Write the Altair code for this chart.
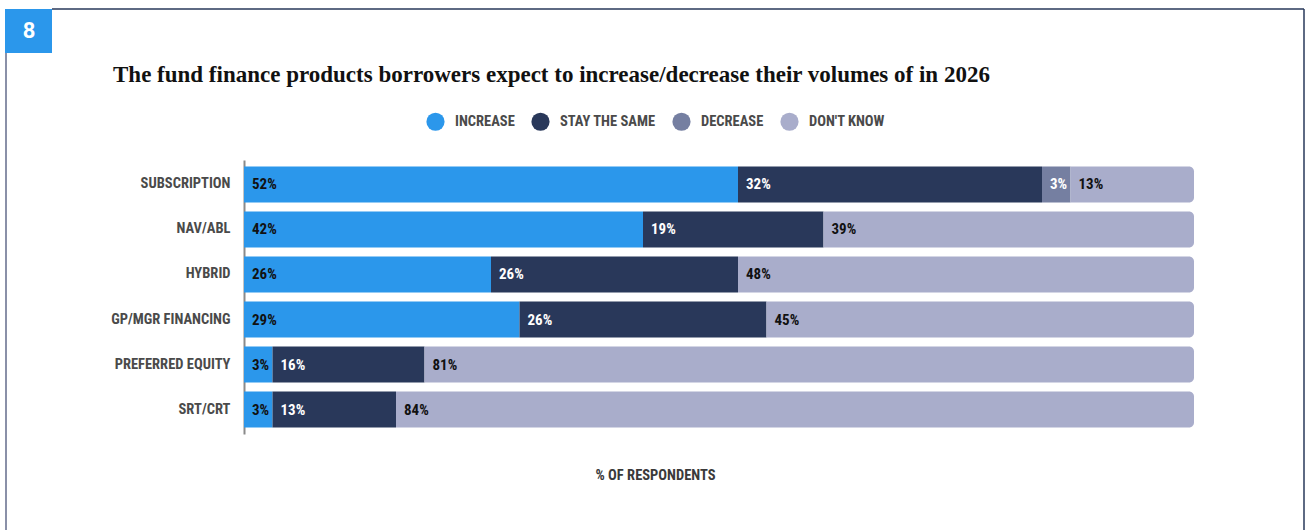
import altair as alt
import pandas as pd

# Survey results, % of respondents
products = ["SUBSCRIPTION", "NAV/ABL", "HYBRID", "GP/MGR FINANCING",
            "PREFERRED EQUITY", "SRT/CRT"]
increase = [52, 42, 26, 29, 3, 3]
stay_same = [32, 19, 26, 26, 16, 13]
decrease = [3, 0, 0, 0, 0, 0]
dont_know = [13, 39, 48, 45, 81, 84]

segments = ["INCREASE", "STAY THE SAME", "DECREASE", "DON'T KNOW"]
seg_colors = ["#2b97eb", "#29385a", "#757fa1", "#a9adcb"]
label_colors = ["#111111", "#ffffff", "#ffffff", "#111111"]

COND = "Roboto Condensed, Liberation Sans Narrow, DejaVu Sans Condensed, sans-serif"
SERIF = "Liberation Serif, DejaVu Serif, serif"

rows = []
for i, p in enumerate(products):
    start = 0
    for s, vals, lc in zip(segments, [increase, stay_same, decrease, dont_know], label_colors):
        v = vals[i]
        if v > 0:
            rows.append({"product": p, "segment": s, "value": v,
                         "start": start, "end": start + v,
                         "label": f"{v}%", "label_color": lc})
        start += v
df = pd.DataFrame(rows)

color_scale = alt.Scale(domain=segments, range=seg_colors)
y_enc = alt.Y("product:N", sort=products,
              scale=alt.Scale(paddingInner=0.2, paddingOuter=0.144),
              axis=alt.Axis(title=None, domain=True, domainColor="#8a8a8a",
                            domainWidth=2, ticks=False, grid=False,
                            labelFont=COND, labelFontSize=14.5, labelFontWeight="bold",
                            labelColor="#4a4a4a", labelPadding=14))
x_enc = alt.X("start:Q", scale=alt.Scale(domain=[0, 100], nice=False),
              axis=alt.Axis(title="% OF RESPONDENTS", labels=False, ticks=False,
                            domain=False, grid=False, titleFont=COND,
                            titleFontSize=14.5, titleFontWeight="bold",
                            titleColor="#3a3a3a", titlePadding=34,
                            titleX=411, titleAlign="center"))

base = alt.Chart(df)

inner = base.transform_filter(alt.datum.segment != "DON'T KNOW").mark_bar().encode(
    x=x_enc, x2="end:Q", y=y_enc,
    color=alt.Color("segment:N", scale=color_scale,
                    legend=alt.Legend(title=None, orient="none", direction="horizontal",
                                      legendX=182, legendY=-48,
                                      symbolType="circle", symbolSize=330,
                                      symbolStrokeWidth=0, symbolOpacity=1,
                                      labelFont=COND, labelFontSize=14.5,
                                      labelFontWeight="bold", labelColor="#4a4a4a",
                                      labelOffset=10, columnPadding=16, padding=0)),
)

outer = base.transform_filter(alt.datum.segment == "DON'T KNOW").mark_bar(
    cornerRadiusTopRight=5, cornerRadiusBottomRight=5
).encode(x="start:Q", x2="end:Q", y=alt.Y("product:N", sort=products),
         color=alt.Color("segment:N", scale=color_scale))

labels = base.mark_text(align="left", baseline="middle", dx=8, font=COND,
                        fontSize=15, fontWeight="bold").encode(
    x="start:Q", y=alt.Y("product:N", sort=products),
    text="label:N", color=alt.Color("label_color:N", scale=None),
)

one = pd.DataFrame({"k": [0]})
deco = alt.Chart(one)
top_line = deco.mark_rule(color="#29385a", strokeWidth=1.5).encode(
    x=alt.value(-192), x2=alt.value(1060), y=alt.value(-151))
right_line = deco.mark_rule(color="#29385a", strokeWidth=1.5).encode(
    x=alt.value(1060), y=alt.value(-151), y2=alt.value(372))
left_line = deco.mark_rule(color="#8a90a8", strokeWidth=2).encode(
    x=alt.value(-238), y=alt.value(-107), y2=alt.value(372))
badge = deco.mark_rect(color="#2b97eb").encode(
    x=alt.value(-239), x2=alt.value(-192), y=alt.value(-151), y2=alt.value(-107))
badge_text = deco.mark_text(text="8", color="white", font="Roboto", fontSize=22,
                            fontWeight="bold", align="center", baseline="middle").encode(
    x=alt.value(-215), y=alt.value(-129))
title = deco.mark_text(
    text="The fund finance products borrowers expect to increase/decrease their volumes of in 2026",
    font=SERIF, fontSize=23, fontWeight="bold", color="#111111",
    align="left", baseline="middle").encode(x=alt.value(-131), y=alt.value(-85))

chart = alt.layer(inner, outer, labels, top_line, right_line, left_line,
                  badge, badge_text, title).properties(
    width=950, height=274,
    background="white",
    autosize=alt.AutoSizeParams(type="none"),
    padding={"left": 244, "top": 160, "right": 112, "bottom": 96},
).configure_view(strokeWidth=0)

chart.save("out.html", embed_options={"renderer": "svg", "actions": False})
